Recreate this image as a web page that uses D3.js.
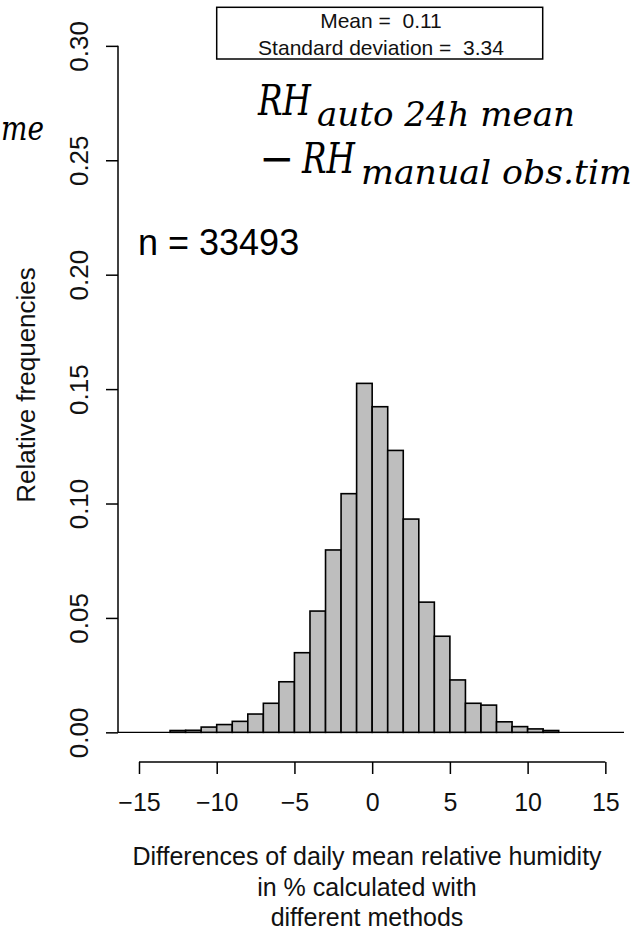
<!DOCTYPE html>
<html>
<head>
<meta charset="utf-8">
<script src="https://cdn.jsdelivr.net/npm/d3@7"></script>
<style>
  html, body { margin: 0; padding: 0; background: #fff; }
  svg { display: block; }
  text { white-space: pre; }
</style>
</head>
<body>
<script>
// ---- data ----
const binStarts = [-13,-12,-11,-10,-9,-8,-7,-6,-5,-4,-3,-2,-1,0,1,2,3,4,5,6,7,8,9,10,11];
const relFreq   = [0.0008,0.0009,0.0023,0.0034,0.0048,0.0080,0.0127,0.0221,0.0348,0.0530,0.0797,0.1043,
                   0.1525,0.1423,0.1232,0.0932,0.0569,0.0420,0.0229,0.0127,0.0119,0.0046,0.0025,0.0015,0.0008];
const binWidth = 1;
const xTicks = [-15,-10,-5,0,5,10,15];
const yTicks = [0,0.05,0.10,0.15,0.20,0.25,0.30];
const yTickLabels = ["0.00","0.05","0.10","0.15","0.20","0.25","0.30"];
const statLines = ["Mean =  0.11", "Standard deviation =  3.34"];
const nLabel = "n = 33493";
const yTitle = "Relative frequencies";
const xTitle = ["Differences of daily mean relative humidity", "in % calculated with", "different methods"];

const W = 634, H = 930;
const FONT = "'Liberation Sans', Arial, Helvetica, sans-serif";
const MATH = "'DejaVu Serif', 'Liberation Serif', serif";
const INK = "#111";

const svg = d3.select("body").append("svg").attr("width", W).attr("height", H);

const x = d3.scaleLinear().domain([-16.35, 16.2]).range([118, 624]);
const y = d3.scaleLinear().domain([-0.012, 0.312]).range([759.8, 18.4]);

// baseline line (h = 0)
svg.append("line")
  .attr("x1", 118).attr("x2", 624)
  .attr("y1", y(0)).attr("y2", y(0))
  .attr("stroke", "#000").attr("stroke-width", 1.4);

// bars
svg.append("g").selectAll("rect")
  .data(binStarts.map((s, i) => ({s, v: relFreq[i]})))
  .join("rect")
  .attr("x", d => x(d.s))
  .attr("width", d => x(d.s + binWidth) - x(d.s))
  .attr("y", d => y(d.v))
  .attr("height", d => y(0) - y(d.v))
  .attr("fill", "#bebebe")
  .attr("stroke", "#000")
  .attr("stroke-width", 1.6);

// x axis
const xAxisY = 762;
const gx = svg.append("g").attr("transform", `translate(0,${xAxisY})`)
  .call(d3.axisBottom(x).tickValues(xTicks).tickSize(12).tickSizeOuter(0)
    .tickFormat(d => (d < 0 ? "\u2212" + Math.abs(d) : String(d))));
gx.select(".domain").remove();
gx.append("line").attr("x1", x(xTicks[0])).attr("x2", x(xTicks[xTicks.length-1]))
  .attr("y1", 0).attr("y2", 0).attr("stroke", "#000").attr("stroke-width", 1.5);
gx.selectAll(".tick line").attr("stroke", "#000").attr("stroke-width", 1.5);
gx.selectAll(".tick text")
  .attr("y", 49).attr("dy", 0)
  .attr("font-family", FONT).attr("font-size", 25).attr("fill", INK);

// y axis
const gy = svg.append("g").attr("transform", `translate(118,0)`)
  .call(d3.axisLeft(y).tickValues(yTicks).tickSize(12).tickSizeOuter(0)
    .tickFormat((d, i) => yTickLabels[i]));
gy.select(".domain").remove();
gy.append("line").attr("x1", 0).attr("x2", 0)
  .attr("y1", y(yTicks[0])).attr("y2", y(yTicks[yTicks.length-1]))
  .attr("stroke", "#000").attr("stroke-width", 1.5);
gy.selectAll(".tick line").attr("stroke", "#000").attr("stroke-width", 1.5);
gy.selectAll(".tick text")
  .attr("transform", "rotate(-90)")
  .attr("x", 0).attr("y", -30).attr("dy", 0)
  .attr("text-anchor", "middle")
  .attr("font-family", FONT).attr("font-size", 26).attr("fill", INK);

// axis titles
svg.append("text")
  .attr("transform", `translate(35,385) rotate(-90)`)
  .attr("text-anchor", "middle")
  .attr("font-family", FONT).attr("font-size", 26).attr("fill", INK)
  .text(yTitle);

svg.append("g").selectAll("text").data(xTitle).join("text")
  .attr("x", 367).attr("y", (d, i) => 865 + i * 30.5)
  .attr("text-anchor", "middle")
  .attr("font-family", FONT).attr("font-size", 25).attr("fill", INK)
  .text(d => d);

// stats box
svg.append("rect").attr("x", 216.7).attr("y", 7.3).attr("width", 326).attr("height", 51.7)
  .attr("fill", "#fff").attr("stroke", "#000").attr("stroke-width", 1.5);
svg.append("g").selectAll("text").data(statLines).join("text")
  .attr("x", 381).attr("y", (d, i) => 28.3 + i * 26.7)
  .attr("text-anchor", "middle")
  .attr("font-family", FONT).attr("font-size", 21).attr("fill", INK)
  .text(d => d);

// n label
svg.append("text").attr("x", 138).attr("y", 255)
  .attr("font-family", FONT).attr("font-size", 36).attr("fill", "#000")
  .text(nLabel);

// formula
function mathText(str, px, py, size) {
  return svg.append("text").attr("x", px).attr("y", py)
    .attr("font-family", MATH).attr("font-style", "italic")
    .attr("font-size", size).attr("fill", "#000").text(str);
}
function fit(t, w) {
  t.attr("textLength", w).attr("lengthAdjust", "spacingAndGlyphs");
}
const rh1 = mathText("RH", 258, 115, 42);
const sub1 = mathText("auto 24h mean", 317, 126, 33);
svg.append("text").attr("x", 259).attr("y", 173)
  .attr("font-family", MATH).attr("font-size", 42).attr("fill", "#000").text("\u2212");
const rh2 = mathText("RH", 302, 173, 42);
const sub2 = mathText("manual obs.tim", 361, 184, 33);

const sxRH = 53 / rh1.node().getComputedTextLength();
fit(rh1, 53);
fit(rh2, rh2.node().getComputedTextLength() * sxRH);
fit(sub1, 258);
fit(sub2, 271);

// fragment of neighbouring panel's text at the left edge
const frag = svg.append("text").attr("x", 1).attr("y", 140)
  .attr("font-family", MATH).attr("font-style", "italic").attr("font-size", 33)
  .attr("fill", "#000").text("me");
fit(frag, 43);
</script>
</body>
</html>
